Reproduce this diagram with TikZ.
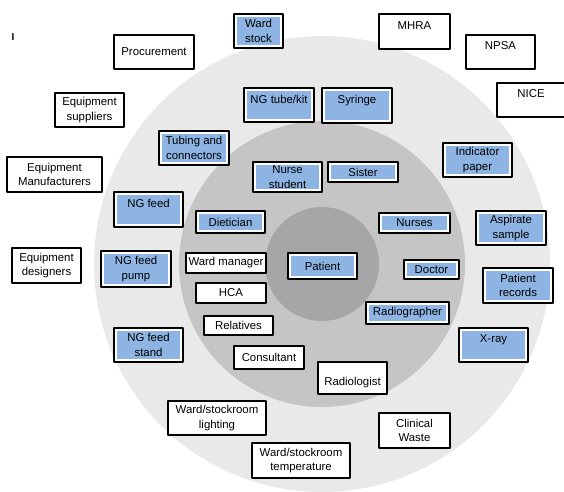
\documentclass[tikz,border=0pt]{standalone}
\usepackage{fontspec}
\setmainfont{Liberation Sans}
\definecolor{ringout}{RGB}{233,233,233}
\definecolor{ringmid}{RGB}{197,197,197}
\definecolor{ringin}{RGB}{166,166,166}
\definecolor{boxblue}{RGB}{141,180,226}
\begin{document}
\begin{tikzpicture}[line cap=round,line join=round,x=1pt,y=-1pt,
  wbox/.style={draw, line width=1.3pt, fill=white, inner sep=0pt, align=center,
    font=\fontsize{11.4}{14.5}\selectfont},
  bbox/.style={wbox, path picture={\fill[boxblue]
    ([xshift=3pt,yshift=-3pt]path picture bounding box.north west) rectangle
    ([xshift=-3pt,yshift=3pt]path picture bounding box.south east);}},
  uptext/.style={text depth=12pt},
  downtext/.style={text height=18pt}]
\useasboundingbox (0,0) rectangle (564,491);
\begin{scope}[shift={(322,264)}]
\fill[ringout] (0,0) circle (228);
\fill[ringmid] (0,0) circle (143);
\fill[ringin] (0,0) circle (57);
\end{scope}
\node (mark) at (13,37) {\fontsize{10}{12}\selectfont\bfseries I};
% outside the rings
\node[wbox, minimum width=80, minimum height=34] (procurement) at (154,52) {Procurement};
\node[wbox, minimum width=69, minimum height=34] (eqsuppliers) at (89.5,110) {Equipment\\suppliers};
\node[wbox, minimum width=95, minimum height=35] (eqmanuf) at (54.5,174.5) {Equipment\\Manufacturers};
\node[wbox, minimum width=69, minimum height=35] (eqdesigners) at (46.5,265.5) {Equipment\\designers};
\node[wbox, uptext, minimum width=71, minimum height=35] (mhra) at (414.5,31.5) {MHRA};
\node[wbox, uptext, minimum width=69, minimum height=34] (npsa) at (500.5,52) {NPSA};
\node[wbox, uptext, minimum width=68, minimum height=34] (nice) at (531,100) {NICE};
\node[bbox, minimum width=49, minimum height=34] (wardstock) at (258.5,31) {Ward\\stock};
% outer ring
\node[bbox, uptext, minimum width=70, minimum height=34] (ngtube) at (279,105) {NG tube/kit};
\node[bbox, uptext, minimum width=70, minimum height=35] (syringe) at (357,105.5) {Syringe};
\node[bbox, minimum width=70, minimum height=34] (tubing) at (194,148) {Tubing and\\connectors};
\node[bbox, minimum width=69, minimum height=34] (indicator) at (477.5,160) {Indicator\\paper};
\node[bbox, uptext, minimum width=69, minimum height=35] (ngfeed) at (148.5,209.5) {NG feed};
\node[bbox, minimum width=70, minimum height=34] (aspirate) at (511,228) {Aspirate\\sample};
\node[bbox, minimum width=70, minimum height=36] (ngfeedpump) at (136,269) {NG feed\\pump};
\node[bbox, minimum width=70, minimum height=35] (patrecords) at (518,285.5) {Patient\\records};
\node[bbox, uptext, minimum width=69, minimum height=34] (xray) at (493.5,345) {X-ray};
\node[bbox, minimum width=69, minimum height=34] (ngfeedstand) at (148.5,345) {NG feed\\stand};
\node[wbox, minimum width=98, minimum height=34] (wslighting) at (217,418) {Ward/stockroom\\lighting};
\node[wbox, minimum width=98, minimum height=35] (wstemp) at (301,460.5) {Ward/stockroom\\temperature};
\node[wbox, minimum width=71, minimum height=35] (clinwaste) at (414.5,430.5) {Clinical\\Waste};
% middle ring
\node[bbox, minimum width=69, minimum height=30] (nursestudent) at (287.5,177) {Nurse\\student};
\node[bbox, minimum width=70, minimum height=20] (sister) at (363,172) {Sister};
\node[bbox, minimum width=69, minimum height=22] (dietician) at (230.5,222) {Dietician};
\node[bbox, minimum width=71, minimum height=20] (nurses) at (414.5,223) {Nurses};
\node[bbox, minimum width=55, minimum height=19] (doctor) at (431.5,269.5) {Doctor};
\node[bbox, minimum width=83, minimum height=22] (radiographer) at (407.5,313) {Radiographer};
\node[wbox, minimum width=80, minimum height=20] (wardmanager) at (226,263) {Ward manager};
\node[wbox, minimum width=70, minimum height=20] (hca) at (231,293) {HCA};
\node[wbox, minimum width=69, minimum height=19] (relatives) at (238.5,325.5) {Relatives};
\node[wbox, minimum width=70, minimum height=23] (consultant) at (269,357.5) {Consultant};
\node[wbox, downtext, minimum width=69, minimum height=32] (radiologist) at (352.5,378) {Radiologist};
% centre
\node[bbox, minimum width=69, minimum height=26] (patient) at (322.5,266) {Patient};
\end{tikzpicture}
\end{document}
